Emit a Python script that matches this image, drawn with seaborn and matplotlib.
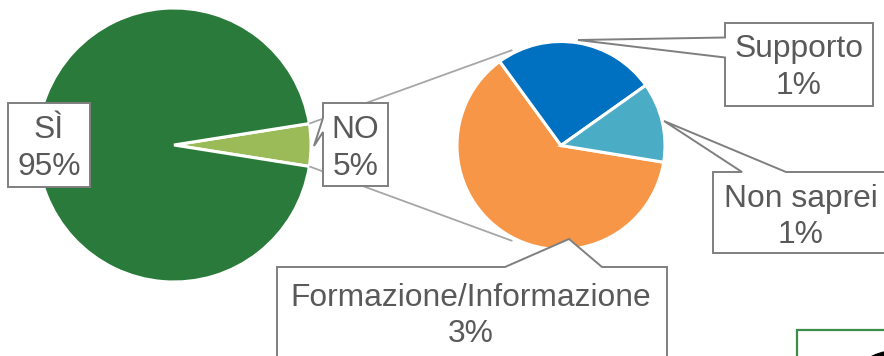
import matplotlib
matplotlib.use("Agg")
import matplotlib.pyplot as plt
from matplotlib.patches import Polygon, Rectangle, Wedge
import numpy as np
import seaborn as sns

# ---- data -------------------------------------------------------------
main_labels = ["NO", "SÌ"]
main_values = [5, 95]                      # percent of all answers

detail_labels = ["Formazione/Informazione", "Supporto", "Non saprei"]
detail_values = [3.12, 1.26, 0.62]         # breakdown of the "NO" answers (percent of total)

main_colors = ["#9BBB59", "#2A7B3B"]
detail_colors = ["#F79646", "#0070C0", "#4BACC6"]

# ---- style ------------------------------------------------------------
sns.set_theme(style="white")
plt.rcParams["font.family"] = ["Liberation Sans", "DejaVu Sans"]

W, H = 884, 356
TEXT = "#595959"
BORDER = "#7F7F7F"
LINK = "#A6A6A6"
FS = 22.9

fig = plt.figure(figsize=(W / 100, H / 100), dpi=100)
ax = fig.add_axes([0, 0, 1, 1])


def P(x, y):
    """Layout helper: pixel position measured from the top-left corner."""
    return (x, H - y)


# ---- main pie ---------------------------------------------------------
c1, r1 = (174, 145), 137
no_span = 360 * main_values[0] / sum(main_values)
start1 = -no_span / 2
ax.pie(main_values, colors=main_colors, startangle=start1, counterclock=True,
       center=P(*c1), radius=r1,
       wedgeprops=dict(edgecolor="white", linewidth=2.2))

# ---- detail pie -------------------------------------------------------
c2, r2 = (561, 145.5), 104
frac0 = detail_values[0] / sum(detail_values)
start2 = 126.1 + 360 * frac0
ax.pie(detail_values, colors=detail_colors, startangle=start2, counterclock=False,
       center=P(*c2), radius=r2,
       wedgeprops=dict(edgecolor="white", linewidth=2.2))

# ---- connector lines from the "NO" slice to the detail pie -------------
for sgn in (1, -1):
    a1 = np.deg2rad(sgn * no_span / 2)
    a2 = np.deg2rad(sgn * 117)
    x1, y1 = c1[0] + r1 * np.cos(a1), c1[1] - r1 * np.sin(a1)
    x2, y2 = c2[0] + r2 * 1.03 * np.cos(a2), c2[1] - r2 * 1.03 * np.sin(a2)
    ax.plot([x1, x2], [H - y1, H - y2], color=LINK, lw=1.3, zorder=3,
            solid_capstyle="butt")


# ---- callout boxes ----------------------------------------------------
def callout(box, pointer=None):
    x0, y0, x1, y1 = box
    top = [(x0, y0), (x1, y0)]
    right = [(x1, y1)]
    bottom = [(x0, y1)]
    left = []
    if pointer is not None:
        side, (b0, b1), tip = pointer
        if side == "left":
            # going up the left edge: from bottom to top
            left = [(x0, b1), tip, (x0, b0)]
        elif side == "top":
            top = [(x0, y0), (b0, y0), tip, (b1, y0), (x1, y0)]
    verts = top + right + bottom + left
    poly = Polygon([P(x, y) for x, y in verts], closed=True,
                   facecolor="white", edgecolor=BORDER, lw=1.4, zorder=5,
                   joinstyle="miter")
    ax.add_patch(poly)


def label_lines(cx, base1, base2, name, value):
    ax.text(*P(cx, base1), name, ha="center", va="baseline",
            fontsize=FS, color=TEXT, zorder=6)
    ax.text(*P(cx, base2), f"{value:.0f}%", ha="center", va="baseline",
            fontsize=FS, color=TEXT, zorder=6)


# SÌ
callout((8, 103, 90, 187))
label_lines(49, 137.5, 175, main_labels[1], main_values[1])

# NO
callout((323, 103, 388, 186), ("left", (118, 132), (314, 146)))
label_lines(355.5, 137.5, 175, main_labels[0], main_values[0])

# Supporto
callout((725, 23, 873, 106), ("left", (37.5, 57.5), (578, 40)))
label_lines(799, 57, 94, detail_labels[1], detail_values[1])

# Non saprei
callout((713, 172, 889, 253), ("top", (742, 786), (664, 121)))
label_lines(801, 207, 243, detail_labels[2], detail_values[2])

# Formazione/Informazione
callout((277, 267, 667, 380), ("top", (505, 602), (569, 239)))
label_lines(471, 305.5, 341.5, detail_labels[0], detail_values[0])

# frame of the neighbouring panel at the lower right, with the edge of its glyph
ax.add_patch(Rectangle(P(797, 420), 200, 90, facecolor="none",
                       edgecolor="#3A8E47", lw=1.6, zorder=4))
ax.add_patch(Wedge(P(896, 405), 55, 60, 170, width=14,
                   facecolor="black", edgecolor="none", zorder=6))

ax.set_xlim(0, W)
ax.set_ylim(0, H)
ax.set_aspect("equal", adjustable="box")
ax.axis("off")

fig.savefig("out.png", dpi=100)
